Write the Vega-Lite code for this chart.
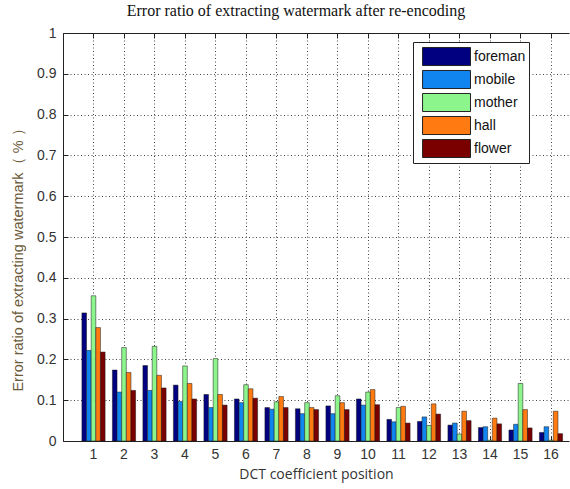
{
  "$schema": "https://vega.github.io/schema/vega-lite/v6.json",
  "autosize": {"type": "none"},
  "padding": {"left": 63, "top": 33, "right": 1, "bottom": 48},
  "width": 506,
  "height": 408,
  "title": {
    "text": "Error ratio of extracting watermark after re-encoding",
    "font": "Liberation Serif",
    "fontSize": 16,
    "fontWeight": "normal",
    "color": "#111",
    "anchor": "middle",
    "dx": -20,
    "offset": 7
  },
  "config": {
    "view": {"stroke": null},
    "axis": {"labelFont": "Liberation Sans", "labelFontSize": 13, "labelColor": "#333", "domainColor": "#222", "tickColor": "#222"}
  },
  "data": {
    "values": [
      {"pos": 1, "video": "foreman", "value": 0.314}, {"pos": 1, "video": "mobile", "value": 0.222}, {"pos": 1, "video": "mother", "value": 0.356}, {"pos": 1, "video": "hall", "value": 0.278}, {"pos": 1, "video": "flower", "value": 0.218},
      {"pos": 2, "video": "foreman", "value": 0.174}, {"pos": 2, "video": "mobile", "value": 0.12}, {"pos": 2, "video": "mother", "value": 0.229}, {"pos": 2, "video": "hall", "value": 0.168}, {"pos": 2, "video": "flower", "value": 0.124},
      {"pos": 3, "video": "foreman", "value": 0.185}, {"pos": 3, "video": "mobile", "value": 0.124}, {"pos": 3, "video": "mother", "value": 0.232}, {"pos": 3, "video": "hall", "value": 0.161}, {"pos": 3, "video": "flower", "value": 0.13},
      {"pos": 4, "video": "foreman", "value": 0.137}, {"pos": 4, "video": "mobile", "value": 0.097}, {"pos": 4, "video": "mother", "value": 0.184}, {"pos": 4, "video": "hall", "value": 0.141}, {"pos": 4, "video": "flower", "value": 0.103},
      {"pos": 5, "video": "foreman", "value": 0.114}, {"pos": 5, "video": "mobile", "value": 0.082}, {"pos": 5, "video": "mother", "value": 0.202}, {"pos": 5, "video": "hall", "value": 0.114}, {"pos": 5, "video": "flower", "value": 0.088},
      {"pos": 6, "video": "foreman", "value": 0.103}, {"pos": 6, "video": "mobile", "value": 0.094}, {"pos": 6, "video": "mother", "value": 0.138}, {"pos": 6, "video": "hall", "value": 0.128}, {"pos": 6, "video": "flower", "value": 0.105},
      {"pos": 7, "video": "foreman", "value": 0.082}, {"pos": 7, "video": "mobile", "value": 0.078}, {"pos": 7, "video": "mother", "value": 0.096}, {"pos": 7, "video": "hall", "value": 0.109}, {"pos": 7, "video": "flower", "value": 0.082},
      {"pos": 8, "video": "foreman", "value": 0.079}, {"pos": 8, "video": "mobile", "value": 0.067}, {"pos": 8, "video": "mother", "value": 0.094}, {"pos": 8, "video": "hall", "value": 0.082}, {"pos": 8, "video": "flower", "value": 0.077},
      {"pos": 9, "video": "foreman", "value": 0.086}, {"pos": 9, "video": "mobile", "value": 0.067}, {"pos": 9, "video": "mother", "value": 0.111}, {"pos": 9, "video": "hall", "value": 0.094}, {"pos": 9, "video": "flower", "value": 0.077},
      {"pos": 10, "video": "foreman", "value": 0.103}, {"pos": 10, "video": "mobile", "value": 0.088}, {"pos": 10, "video": "mother", "value": 0.12}, {"pos": 10, "video": "hall", "value": 0.126}, {"pos": 10, "video": "flower", "value": 0.089},
      {"pos": 11, "video": "foreman", "value": 0.053}, {"pos": 11, "video": "mobile", "value": 0.047}, {"pos": 11, "video": "mother", "value": 0.082}, {"pos": 11, "video": "hall", "value": 0.085}, {"pos": 11, "video": "flower", "value": 0.044},
      {"pos": 12, "video": "foreman", "value": 0.048}, {"pos": 12, "video": "mobile", "value": 0.059}, {"pos": 12, "video": "mother", "value": 0.038}, {"pos": 12, "video": "hall", "value": 0.091}, {"pos": 12, "video": "flower", "value": 0.066},
      {"pos": 13, "video": "foreman", "value": 0.039}, {"pos": 13, "video": "mobile", "value": 0.044}, {"pos": 13, "video": "mother", "value": 0.017}, {"pos": 13, "video": "hall", "value": 0.073}, {"pos": 13, "video": "flower", "value": 0.05},
      {"pos": 14, "video": "foreman", "value": 0.033}, {"pos": 14, "video": "mobile", "value": 0.035}, {"pos": 14, "video": "mother", "value": 0.002}, {"pos": 14, "video": "hall", "value": 0.056}, {"pos": 14, "video": "flower", "value": 0.042},
      {"pos": 15, "video": "foreman", "value": 0.027}, {"pos": 15, "video": "mobile", "value": 0.041}, {"pos": 15, "video": "mother", "value": 0.141}, {"pos": 15, "video": "hall", "value": 0.077}, {"pos": 15, "video": "flower", "value": 0.032},
      {"pos": 16, "video": "foreman", "value": 0.021}, {"pos": 16, "video": "mobile", "value": 0.035}, {"pos": 16, "video": "mother", "value": 0.002}, {"pos": 16, "video": "hall", "value": 0.073}, {"pos": 16, "video": "flower", "value": 0.018}
    ]
  },
  "resolve": {"axis": {"x": "independent", "y": "independent"}},
  "layer": [
    {
      "mark": {"type": "bar", "stroke": "#1a1a1a", "strokeWidth": 0.5},
      "encoding": {
        "x": {
          "field": "pos", "type": "ordinal",
          "scale": {"paddingInner": 0.24, "paddingOuter": 0.415, "align": 0.747},
          "axis": {
            "title": "DCT coefficient position",
            "titleFont": "Open Sans", "titleFontSize": 14, "titleFontWeight": "normal", "titleColor": "#333",
            "titlePadding": 6,
            "labelAngle": 0, "labelPadding": 11, "labelFontSize": 14, "tickSize": -5,
            "grid": true, "gridDash": [1, 2.5], "gridColor": "#444", "gridOpacity": 1
          }
        },
        "xOffset": {
          "field": "video", "type": "nominal",
          "scale": {"domain": ["foreman", "mobile", "mother", "hall", "flower"], "paddingInner": 0, "paddingOuter": 0}
        },
        "y": {
          "field": "value", "type": "quantitative",
          "scale": {"domain": [0, 1], "nice": false},
          "axis": {
            "title": "Error ratio of extracting watermark（ % ）",
            "titleFont": "Liberation Sans", "titleFontSize": 14.5, "titleFontWeight": "normal", "titleColor": "#6b5a3a",
            "titleX": -45, "titleY": 223, "titleAngle": -90, "titleAlign": "center", "titleBaseline": "middle",
            "values": [0, 0.1, 0.2, 0.3, 0.4, 0.5, 0.6, 0.7, 0.8, 0.9, 1],
            "format": ".1~f", "tickSize": -5, "labelPadding": 12, "labelFontSize": 14,
            "grid": true, "gridDash": [1, 2.5], "gridColor": "#444", "gridOpacity": 1
          }
        },
        "color": {
          "field": "video", "type": "nominal",
          "scale": {"domain": ["foreman", "mobile", "mother", "hall", "flower"], "range": ["#000080", "#1085f0", "#8cf58c", "#ff7a10", "#7a0000"]},
          "legend": {
            "title": null, "orient": "none", "legendX": 350, "legendY": 9,
            "padding": 3, "strokeColor": "#222", "fillColor": "#fff",
            "symbolType": "M-0.45,-0.82H3.91V0.82H-0.45Z", "symbolSize": 484,
            "symbolStrokeColor": "#222", "symbolStrokeWidth": 1, "symbolOpacity": 1,
            "labelOffset": 35, "labelFont": "Liberation Sans", "labelFontSize": 14, "labelColor": "#111",
            "rowPadding": 0
          }
        }
      }
    },
    {
      "mark": {"type": "bar", "opacity": 0},
      "encoding": {
        "x": {
          "field": "pos", "type": "ordinal",
          "axis": {"orient": "top", "title": null, "labels": false, "tickSize": -5, "grid": false}
        },
        "xOffset": {"field": "video", "type": "nominal"},
        "y": {"field": "value", "type": "quantitative", "axis": null}
      }
    }
  ]
}
